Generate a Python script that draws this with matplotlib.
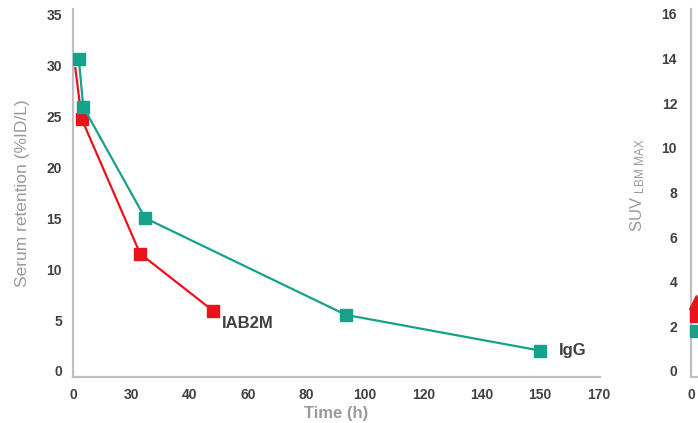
import matplotlib.pyplot as plt

plt.rcParams['font.family'] = ['Liberation Sans', 'DejaVu Sans']
plt.rcParams['mathtext.default'] = 'regular'

# datos
t_igg = [2.0, 3.5, 24.7, 93.5, 160]
ret_igg = [30.6, 25.9, 15.0, 5.5, 2.0]

t_iab = [0.8, 3.0, 23.0, 48.0]
ret_iab = [29.7, 24.7, 11.5, 5.9]

xticks = [0, 20, 40, 60, 80, 100, 120, 140, 160, 180]
xlabels = ["0", "30", "40", "60", "80", "100", "120", "140", "150", "170"]
yticks = [0, 5, 10, 15, 20, 25, 30, 35]

# segundo panel (cortado en el borde)
suv_ticks = [0, 2, 4, 6, 8, 10, 12, 14, 16]
suv_x = [2.5, 2.5, 2.5, 1.5]
suv_y = [1.8, 2.45, 3.1, 2.95]

verde = "#17a08a"
rojo = "#e8141c"
gris_eje = "#bfbfbf"
gris_txt = "#404040"
gris_lbl = "#9a9a9a"

fig = plt.figure(figsize=(6.98, 4.23), dpi=100)
ax = fig.add_axes([73 / 698, 1 - 377 / 423, 527 / 698, 368 / 423])

ax.plot(t_iab, ret_iab, color=rojo, lw=1.6, marker="s", ms=8.5,
        markevery=[1, 2, 3], zorder=3)
ax.plot(t_igg, ret_igg, color=verde, lw=1.6, marker="s", ms=8.5, zorder=4)

ax.text(t_iab[-1] + 3, ret_iab[-1] - 1.2, "IAB2M", fontsize=12, fontweight="bold",
        color=gris_txt, va="center", ha="left")
ax.text(t_igg[-1] + 6.5, ret_igg[-1], "IgG", fontsize=12, fontweight="bold",
        color=gris_txt, va="center", ha="left")

ax.set_xlim(0, 180.5)
ax.set_ylim(-0.59, 35.5)
ax.set_xticks(xticks)
ax.set_xticklabels(xlabels)
ax.set_yticks(yticks)
ax.set_xlabel("Time (h)", fontsize=12, fontweight="bold", color=gris_lbl, labelpad=3)
ax.set_ylabel("Serum retention (%ID/L)", fontsize=12.5, color=gris_lbl, labelpad=12)

ax.spines["top"].set_visible(False)
ax.spines["right"].set_visible(False)
ax.spines["left"].set_color(gris_eje)
ax.spines["bottom"].set_color(gris_eje)
ax.spines["left"].set_linewidth(1.6)
ax.spines["bottom"].set_linewidth(1.6)
ax.tick_params(length=0, labelsize=10, labelcolor=gris_txt, pad=8)
for lab in ax.get_xticklabels() + ax.get_yticklabels():
    lab.set_fontweight("bold")

ax2 = fig.add_axes([691 / 698, 1 - 377 / 423, 0.3, 368 / 423])
ax2.plot(suv_x[3], suv_y[3], marker="^", ms=6, color="#8c8c8c", ls="none", zorder=2, clip_on=False)
ax2.plot(suv_x[2], suv_y[2], marker="^", ms=10, color=rojo, ls="none", zorder=3, clip_on=False)
ax2.plot(suv_x[1], suv_y[1], marker="s", ms=8.5, color=rojo, ls="none", zorder=4, clip_on=False)
ax2.plot(suv_x[0], suv_y[0], marker="s", ms=8.5, color=verde, ls="none", zorder=3, clip_on=False)
ax2.set_xlim(0, 100)
ax2.set_ylim(-0.27, 16.22)
ax2.set_xticks([0])
ax2.set_yticks(suv_ticks)
ax2.set_ylabel("SUV $_{LBM\\ MAX}$", fontsize=12, color=gris_lbl)
ax2.yaxis.set_label_coords(-0.21, 0.52)
ax2.spines["top"].set_visible(False)
ax2.spines["right"].set_visible(False)
ax2.spines["left"].set_color(gris_eje)
ax2.spines["bottom"].set_color(gris_eje)
ax2.spines["left"].set_linewidth(1.6)
ax2.spines["bottom"].set_linewidth(1.6)
ax2.tick_params(length=0, labelsize=10, labelcolor=gris_txt)
ax2.tick_params(axis="y", pad=10)
ax2.tick_params(axis="x", pad=8)
for lab in ax2.get_xticklabels() + ax2.get_yticklabels():
    lab.set_fontweight("bold")

fig.savefig("out.png", dpi=100)
